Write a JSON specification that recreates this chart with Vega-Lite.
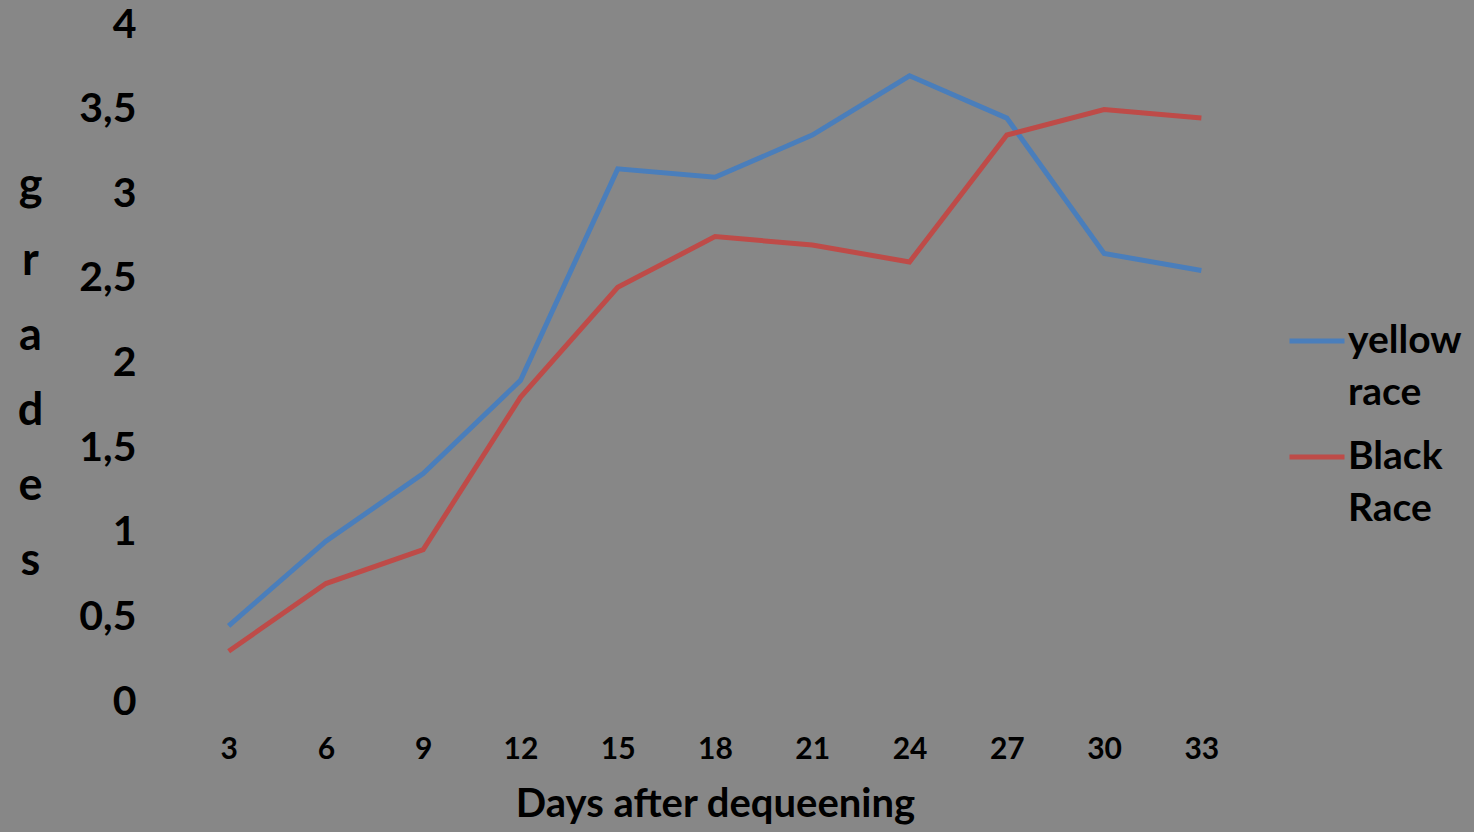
{
  "$schema": "https://vega.github.io/schema/vega-lite/v6.json",
  "width": 1070,
  "height": 677,
  "autosize": "none",
  "padding": {"left": 180, "top": 25, "right": 224, "bottom": 130},
  "background": "#878787",
  "config": {
    "view": {"stroke": null},
    "font": "Lato",
    "style": {"guide-label": {"lineHeight": 52}},
    "axis": {"grid": false, "domain": false, "ticks": false, "labelColor": "#000000", "titleColor": "#000000", "labelFont": "Lato", "titleFont": "Lato", "labelFontWeight": "bold", "titleFontWeight": "bold"},
    "legend": {"labelFont": "Lato", "labelFontWeight": "bold", "labelColor": "#000000"}
  },
  "data": {
    "values": [
      {"day": 3, "series": "yellow race", "grade": 0.45},
      {"day": 6, "series": "yellow race", "grade": 0.95},
      {"day": 9, "series": "yellow race", "grade": 1.35},
      {"day": 12, "series": "yellow race", "grade": 1.9},
      {"day": 15, "series": "yellow race", "grade": 3.15},
      {"day": 18, "series": "yellow race", "grade": 3.1},
      {"day": 21, "series": "yellow race", "grade": 3.35},
      {"day": 24, "series": "yellow race", "grade": 3.7},
      {"day": 27, "series": "yellow race", "grade": 3.45},
      {"day": 30, "series": "yellow race", "grade": 2.65},
      {"day": 33, "series": "yellow race", "grade": 2.55},
      {"day": 3, "series": "Black Race", "grade": 0.3},
      {"day": 6, "series": "Black Race", "grade": 0.7},
      {"day": 9, "series": "Black Race", "grade": 0.9},
      {"day": 12, "series": "Black Race", "grade": 1.8},
      {"day": 15, "series": "Black Race", "grade": 2.45},
      {"day": 18, "series": "Black Race", "grade": 2.75},
      {"day": 21, "series": "Black Race", "grade": 2.7},
      {"day": 24, "series": "Black Race", "grade": 2.6},
      {"day": 27, "series": "Black Race", "grade": 3.35},
      {"day": 30, "series": "Black Race", "grade": 3.5},
      {"day": 33, "series": "Black Race", "grade": 3.45}
    ]
  },
  "mark": {"type": "line", "strokeWidth": 5, "strokeJoin": "miter"},
  "encoding": {
    "x": {
      "field": "day",
      "type": "ordinal",
      "sort": null,
      "scale": {"type": "point", "padding": 0.5},
      "axis": {"labelAngle": 0, "labelFontSize": 30, "labelLineHeight": 30, "labelPadding": 32, "title": "Days after dequeening", "titleFontSize": 40, "titlePadding": 20}
    },
    "y": {
      "field": "grade",
      "type": "quantitative",
      "scale": {"domain": [0, 4], "nice": false},
      "axis": {
        "values": [0, 0.5, 1, 1.5, 2, 2.5, 3, 3.5, 4],
        "labelExpr": "replace(format(datum.value, '.1~f'), '.', ',')",
        "labelFontSize": 41,
        "labelLineHeight": 36,
        "labelPadding": 44,
        "title": ["g", "r", "a", "d", "e", "s"],
        "titleAngle": 0,
        "titleFontSize": 45,
        "titleLineHeight": 75,
        "titleAnchor": "middle",
        "titleBaseline": "middle",
        "titleX": -150,
        "titleY": 160
      }
    },
    "color": {
      "field": "series",
      "type": "nominal",
      "sort": ["yellow race", "Black Race"],
      "scale": {"domain": ["yellow race", "Black Race"], "range": ["#4A7EBB", "#BE4B48"]},
      "legend": {
        "title": null,
        "orient": "none",
        "legendX": 1107,
        "legendY": 286,
        "symbolType": "stroke",
        "symbolSize": 3025,
        "symbolStrokeWidth": 5,
        "labelFontSize": 39,
        "labelOffset": 1,
        "labelBaseline": "middle",
        "rowPadding": 14,
        "labelExpr": "split(datum.label, ' ')"
      }
    }
  }
}
